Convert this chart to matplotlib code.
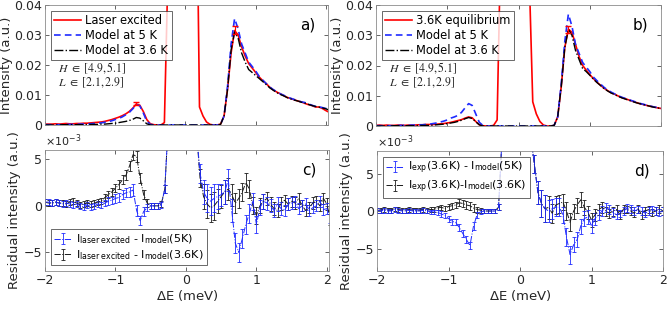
import numpy as np
import matplotlib
matplotlib.use("Agg")
import matplotlib.pyplot as plt

plt.rcParams['font.family'] = ['DejaVu Sans']
plt.rcParams['mathtext.fontset'] = 'dejavusans'

# Energy transfer grid (meV)
energy = np.round(np.arange(-2.0, 2.0501, 0.05), 2)
nan = np.nan

# ---- Panel a: intensities ----
laser_excited = [0.0003,0.0003,0.0003,0.0004,0.0003,0.0004,0.0005,0.0004,0.0004,0.0005,0.0005,0.0006,0.0006,0.0007,0.0008,0.0009,
                 0.0010,0.0012,0.0015,0.0018,0.0022,0.0026,0.0031,0.0037,0.0045,0.0056,0.0070,0.0066,0.0045,0.0018,
                 0.0004,0.0001,0.0,0.0,0.0008,
                 0.05,0.15,0.3,0.4,0.45,0.4,0.3,0.2,0.1,
                 0.006,0.003,0.001,0.0002,0.0,0.0,0.0003,
                 0.003,0.012,0.024,0.0315,0.030,0.026,0.023,0.0205,0.019,0.0175,
                 0.016,0.0148,0.0138,0.0126,0.0117,0.0110,0.0104,0.0098,0.0092,0.0088,0.0084,0.0080,0.0077,0.0072,0.0068,0.0065,0.0060,0.0060,0.0055,0.0048,0.0042]
model5_a = [0.0001,0.0001,0.0001,0.0001,0.0001,0.0001,0.0002,0.0002,0.0002,0.0002,0.0003,0.0003,0.0004,0.0004,0.0005,0.0006,
            0.0007,0.0009,0.0011,0.0014,0.0018,0.0022,0.0027,0.0034,0.0042,0.0054,0.0068,0.0064,0.0040,0.0012,
            0.0002,0.0,0.0,0.0,0.0,
            0,0,0,0,0,0,0,0,0,
            0,0,0,0,0,0,0.0002,
            0.003,0.013,0.027,0.0355,0.032,0.027,0.024,0.021,0.0195,0.018,
            0.0162,0.015,0.0138,0.0127,0.0118,0.0111,0.0104,0.0099,0.0093,0.0089,0.0085,0.0081,0.0077,0.0075,0.0070,0.0066,0.0062,0.0061,0.0058,0.0055,0.0050]
model36_a = [0.0,0.0,0.0,0.0,0.0,0.0001,0.0001,0.0001,0.0001,0.0001,0.0001,0.0001,0.0002,0.0002,0.0002,0.0002,
             0.0003,0.0003,0.0004,0.0005,0.0006,0.0008,0.0010,0.0012,0.0015,0.0019,0.0025,0.0023,0.0014,0.0004,
             0.0,0.0,0.0,0.0,0.0,
             0,0,0,0,0,0,0,0,0,
             0,0,0,0,0,0,0.0002,
             0.003,0.012,0.025,0.031,0.029,0.024,0.021,0.0185,0.0175,0.0165,
             0.0155,0.0145,0.0135,0.0124,0.0116,0.0108,0.0102,0.0097,0.0091,0.0087,0.0083,0.0080,0.0076,0.0073,0.0069,0.0065,0.0062,0.0060,0.0057,0.0054,0.0049]

# ---- Panel b: intensities ----
equilibrium = [0.0002,0.0003,0.0002,0.0003,0.0002,0.0002,0.0003,0.0003,0.0002,0.0003,0.0003,0.0003,0.0004,0.0004,0.0005,0.0005,
               0.0005,0.0006,0.0007,0.0008,0.0010,0.0012,0.0015,0.0018,0.0021,0.0026,0.0030,0.0027,0.0015,0.0004,
               0.0001,0.0,0.0,0.0002,0.002,
               0.06,0.2,0.35,0.45,0.5,0.45,0.3,0.15,0.05,
               0.008,0.004,0.0015,0.0003,0.0,0.0,0.0002,
               0.003,0.013,0.026,0.032,0.031,0.027,0.023,0.020,0.0185,0.017,
               0.0157,0.0145,0.0135,0.0125,0.0117,0.011,0.0105,0.0099,0.0094,0.009,0.0086,0.0082,0.0078,0.0074,0.0071,0.0068,0.0065,0.0063,0.006,0.0058,0.0056]
model5_b = [0.0001,0.0001,0.0001,0.0001,0.0001,0.0001,0.0002,0.0002,0.0002,0.0002,0.0003,0.0003,0.0004,0.0004,0.0005,0.0006,
            0.0008,0.0010,0.0013,0.0016,0.0020,0.0026,0.0030,0.0035,0.0045,0.0060,0.0074,0.0068,0.0040,0.0012,
            0.0002,0.0,0.0,0.0,0.0,
            0,0,0,0,0,0,0,0,0,
            0,0,0,0,0,0,0.0002,
            0.003,0.014,0.028,0.037,0.033,0.027,0.024,0.021,0.0195,0.018,
            0.0162,0.015,0.0139,0.0128,0.0119,0.0112,0.0106,0.0100,0.0095,0.0091,0.0087,0.0083,0.0079,0.0075,0.0072,0.0069,0.0066,0.0063,0.0061,0.0059,0.0057]
model36_b = [0.0,0.0,0.0,0.0,0.0,0.0001,0.0001,0.0001,0.0001,0.0001,0.0001,0.0001,0.0002,0.0002,0.0002,0.0002,
             0.0003,0.0004,0.0005,0.0006,0.0008,0.0010,0.0012,0.0015,0.0019,0.0024,0.0028,0.0025,0.0014,0.0004,
             0.0,0.0,0.0,0.0,0.0,
             0,0,0,0,0,0,0,0,0,
             0,0,0,0,0,0,0.0002,
             0.003,0.013,0.026,0.032,0.030,0.025,0.022,0.019,0.018,0.0168,
             0.0155,0.0144,0.0134,0.0124,0.0116,0.0109,0.0104,0.0098,0.0093,0.0089,0.0085,0.0081,0.0077,0.0074,0.0071,0.0068,0.0065,0.0062,0.006,0.0058,0.0056]

# ---- Panel c: residuals (x 1e-3) ----
res_c_5K = [0.4,0.4,0.3,0.4,0.3,0.2,0.3,0.2,0.1,0.2,0.0,-0.1,0.1,-0.1,0.0,0.2,
            0.1,0.3,0.5,0.6,0.8,0.9,1.2,1.4,1.5,1.7,-0.5,-1.6,-0.6,-0.2,
            0.0,0.0,0.0,0.1,1.8,
            9,nan,nan,nan,nan,nan,nan,nan,8,
            3.5,1.5,0.8,0.5,0.8,1.0,1.2,
            1.5,2.8,-0.5,-4.0,-5.0,-3.5,-2.0,-0.8,0.5,-2.0,
            -0.2,0.5,0.3,0.0,-0.5,0.2,-0.3,-0.5,0.2,0.3,0.5,-0.3,0.0,0.2,-0.5,-0.2,0.0,0.5,-0.4,-0.3,-1.2]
res_c_36K = [0.4,0.3,0.3,0.4,0.3,0.3,0.2,0.4,0.5,0.3,0.1,0.2,0.3,0.2,0.3,0.4,
             0.5,0.9,1.2,1.5,1.9,2.3,2.8,3.3,4.3,5.5,5.3,3.0,1.2,0.3,
             0.0,0.0,0.0,0.2,1.8,
             9,nan,nan,nan,nan,nan,nan,nan,8,
             3.0,1.0,0.2,-0.2,0.0,0.5,1.0,
             1.5,1.8,1.2,0.3,0.8,1.5,2.5,1.8,0.0,-1.0,
             0.0,0.5,0.8,0.2,-0.3,-0.5,0.3,0.6,0.2,0.5,0.3,0.8,0.0,-0.5,-0.2,0.3,0.5,0.0,0.8,0.2,-1.5]
err_c = [0.3]*16 + [0.35,0.35,0.4,0.4,0.45,0.45,0.5,0.5,0.55,0.6,0.6,0.5,0.45,0.4] + \
        [0.3,0.3,0.3,0.3,0.4] + [0.5,nan,nan,nan,nan,nan,nan,nan,0.5] + \
        [1.0,1.3,1.5,1.5,1.5,1.3,1.2] + [1.3,1.2,1.2,1.1,1.0,1.0,1.0,1.0,0.9,0.9] + \
        [0.8,0.8,0.7,0.7,0.7,0.7,0.7,0.6,0.6,0.6,0.6,0.6,0.6,0.6,0.6,0.6,0.6,0.6,0.6,0.6,0.6]

# ---- Panel d: residuals (x 1e-3) ----
res_d_5K = [0.1,0.0,0.1,0.0,0.0,0.2,0.1,0.0,0.0,0.1,0.0,0.0,0.0,0.1,0.0,-0.1,
            -0.1,-0.2,-0.4,-0.6,-1.0,-1.4,-1.5,-2.2,-3.0,-3.8,-4.6,-2.0,-0.5,-0.1,
            0.0,0.0,0.0,0.0,0.5,
            10,nan,nan,nan,nan,nan,nan,nan,10,
            6.3,2.5,1.0,0.3,0.0,0.3,0.5,
            0.5,-0.5,-3.5,-5.8,-4.5,-3.8,-2.0,-1.0,-0.8,-2.0,
            -1.0,-0.5,0.0,0.5,0.2,-0.2,-0.5,-0.3,0.0,0.4,0.3,0.0,0.2,0.0,-0.3,0.0,0.2,0.0,-0.2,0.0,0.0]
res_d_36K = [0.1,0.1,0.2,0.1,0.1,0.3,0.2,0.1,0.1,0.2,0.1,0.1,0.1,0.2,0.1,0.2,
             0.2,0.4,0.5,0.3,0.6,0.7,0.8,1.1,1.0,0.8,0.7,0.4,0.2,0.1,
             0.0,0.0,0.0,0.0,0.5,
             10,nan,nan,nan,nan,nan,nan,nan,10,
             6.3,2.5,1.0,0.3,0.5,-0.3,0.8,
             1.0,1.2,0.0,-1.5,0.0,0.8,1.5,0.5,-0.2,-1.2,
             -0.5,0.2,0.5,0.0,-0.3,0.0,0.2,-0.5,0.3,0.2,0.0,-0.3,0.3,-0.5,0.0,0.2,-0.2,0.0,0.3,0.0,0.0]
err_d = [0.3]*16 + [0.3,0.3,0.35,0.35,0.4,0.4,0.4,0.45,0.45,0.5,0.5,0.5,0.4,0.35] + \
        [0.3,0.3,0.3,0.3,0.4] + [0.5,nan,nan,nan,nan,nan,nan,nan,0.5] + \
        [1.2,1.5,1.8,1.8,1.5,1.3,1.2] + [1.2,1.1,1.2,1.2,1.0,1.0,1.0,1.0,0.9,0.9] + \
        [0.8,0.7,0.7,0.6,0.6,0.6,0.6,0.5,0.5,0.5,0.5,0.5,0.5,0.5,0.5,0.5,0.5,0.5,0.5,0.5,0.5]

# selected experimental error bars
errpts_a_E = [-0.70, 0.70]
errpts_a_I = [0.0072, 0.0317]
errpts_a_e = [0.0006, 0.0012]
errpts_b_E = [0.70]
errpts_b_I = [0.0320]
errpts_b_e = [0.0012]

W, H = 667, 309
fig = plt.figure(figsize=(W/100, H/100), dpi=100)

def box(l, t, r, b):
    return [l/W, 1 - b/H, (r-l)/W, (b-t)/H]

axa = fig.add_axes(box(45, 5, 328, 125))
axb = fig.add_axes(box(376, 5, 661, 126))
axc = fig.add_axes(box(45, 150, 329, 271))
axd = fig.add_axes(box(377, 151, 663, 271))

def style(ax):
    ax.tick_params(direction='in', length=3, width=0.5, labelsize=9,
                   colors='#262626', top=True, right=True, pad=2)
    for s in ax.spines.values():
        s.set_color('#8c8c8c')
        s.set_linewidth(0.6)

red = '#ff0000'
blue = '#1f2bff'

for ax, exp, m5, m36, lab, tag, eE, eI, ee in [
        (axa, laser_excited, model5_a, model36_a, 'Laser excited', 'a)', errpts_a_E, errpts_a_I, errpts_a_e),
        (axb, equilibrium, model5_b, model36_b, '3.6K equilibrium', 'b)', errpts_b_E, errpts_b_I, errpts_b_e)]:
    ax.plot(energy, exp, '-', color=red, lw=1.2, label=lab)
    ax.plot(energy, m5, '--', color=blue, lw=1.2, label='Model at 5 K', dashes=(4, 2.5))
    ax.plot(energy, m36, '-.', color='black', lw=1.0, label='Model at 3.6 K')
    ax.errorbar(eE, eI, yerr=ee, fmt='none', ecolor=red, elinewidth=0.8, capsize=2)
    ax.set_ylim(0, 0.04)
    ax.set_yticks([0, 0.01, 0.02, 0.03, 0.04])
    ax.set_yticklabels(['0', '0.01', '0.02', '0.03', '0.04'])
    ax.set_xticks([-2, -1, 0, 1, 2])
    ax.set_xticklabels([])
    ax.set_ylabel('Intensity (a.u.)', fontsize=9.5, color='#262626', labelpad=1)
    leg = ax.legend(loc='upper left', fontsize=8.3, handlelength=2.3, borderpad=0.3,
                    labelspacing=0.15, handletextpad=0.4, fancybox=False,
                    edgecolor='#262626', bbox_to_anchor=(0.0, 1.0))
    leg.get_frame().set_linewidth(0.6)
    ax.text(0.045, 0.475, r'$H\ \in\ [4.9,5.1]$', transform=ax.transAxes, fontsize=8.5,
            math_fontfamily='stix', color='#262626', va='center')
    ax.text(0.045, 0.355, r'$L\ \in\ [2.1,2.9]$', transform=ax.transAxes, fontsize=8.5,
            math_fontfamily='stix', color='#262626', va='center')
    ax.text(0.955, 0.80, tag, transform=ax.transAxes, fontsize=11, ha='right', color='black')
    style(ax)

axa.set_xlim(-2, 2.03)
axb.set_xlim(-2, 2)

for ax, r5, r36, err, l5, l36, tag, ylim, loc in [
        (axc, res_c_5K, res_c_36K, err_c,
         r'$\mathregular{I_{laser\ excited}}$ - $\mathregular{I_{model}}$(5K)',
         r'$\mathregular{I_{laser\ excited}}$ - $\mathregular{I_{model}}$(3.6K)', 'c)', (-7, 6), 'lower left'),
        (axd, res_d_5K, res_d_36K, err_d,
         r'$\mathregular{I_{exp}}$(3.6K) - $\mathregular{I_{model}}$(5K)',
         r'$\mathregular{I_{exp}}$(3.6K)-$\mathregular{I_{model}}$(3.6K)', 'd)', (-8, 8), 'upper left')]:
    ax.errorbar(energy, r36, yerr=err, fmt='-.', color='#1a1a1a', lw=0.7,
                elinewidth=0.6, capsize=1.5, capthick=0.6, label=l36)
    ax.errorbar(energy, r5, yerr=err, fmt='-.', color=blue, lw=0.7,
                elinewidth=0.6, capsize=1.5, capthick=0.6, label=l5)
    ax.set_ylim(*ylim)
    ax.set_yticks([-5, 0, 5])
    ax.set_xticks([-2, -1, 0, 1, 2])
    ax.set_xlabel(r'$\Delta$E (meV)', fontsize=9.5, color='#262626', labelpad=1)
    ax.set_ylabel('Residual intensity (a.u.)', fontsize=9.5, color='#262626', labelpad=2)
    h, l = ax.get_legend_handles_labels()
    leg = ax.legend(h[::-1], l[::-1], loc=loc, fontsize=8, handlelength=1.6, borderpad=0.3,
                    labelspacing=0.2, handletextpad=0.4, fancybox=False,
                    edgecolor='#262626')
    leg.get_frame().set_linewidth(0.6)
    ax.text(0.955, 0.80, tag, transform=ax.transAxes, fontsize=11, ha='right', color='black')
    ax.text(0.0, 1.01, r'$\times10^{-3}$', transform=ax.transAxes, fontsize=8,
            color='#262626', va='bottom')
    style(ax)

axc.set_xlim(-2, 2.03)
axd.set_xlim(-2, 2)

fig.savefig('out.png', dpi=100)
